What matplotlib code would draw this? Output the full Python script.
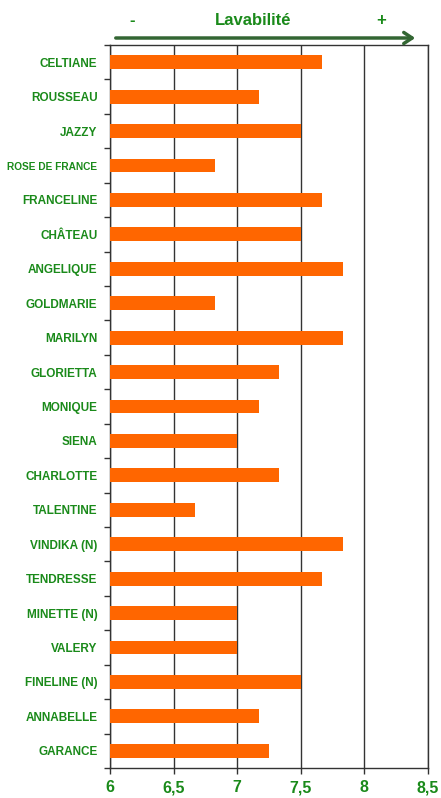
import matplotlib.pyplot as plt
from matplotlib.patches import FancyArrowPatch
from matplotlib.ticker import FixedLocator

varieties = ["CELTIANE", "ROUSSEAU", "JAZZY", "ROSE DE FRANCE", "FRANCELINE",
             "CHÂTEAU", "ANGELIQUE", "GOLDMARIE", "MARILYN", "GLORIETTA",
             "MONIQUE", "SIENA", "CHARLOTTE", "TALENTINE", "VINDIKA (N)",
             "TENDRESSE", "MINETTE (N)", "VALERY", "FINELINE (N)", "ANNABELLE",
             "GARANCE"]
scores = [7.67, 7.17, 7.5, 6.83, 7.67,
          7.5, 7.83, 6.83, 7.83, 7.33,
          7.17, 7.0, 7.33, 6.67, 7.83,
          7.67, 7.0, 7.0, 7.5, 7.17,
          7.25]
x_ticks = [6, 6.5, 7, 7.5, 8, 8.5]
x_tick_labels = ["6", "6,5", "7", "7,5", "8", "8,5"]

green = "#1a8a1a"
arrow_green = "#336633"
plt.rcParams['font.family'] = ["Liberation Sans", "DejaVu Sans"]

fig = plt.figure(figsize=(4.41, 7.98), dpi=100)
ax = fig.add_axes([0.2494, 0.0376, 0.9698 - 0.2494, 0.9436 - 0.0376])

pos = list(range(len(varieties)))
ax.barh(pos, [s - 6 for s in scores], left=6, height=0.4, color="#ff6600", zorder=3)

ax.set_xlim(6, 8.5)
ax.set_ylim(len(varieties) - 0.5, -0.5)

ax.set_xticks(x_ticks)
ax.set_xticklabels(x_tick_labels, fontsize=11.5, fontweight="bold", color=green)
ax.tick_params(axis="x", length=4, width=1, color="#333333", pad=5)
ax.xaxis.grid(True, color="#333333", linewidth=1, zorder=1)

ax.set_yticks(pos)
labels = ax.set_yticklabels(varieties, fontsize=8.5, fontweight="bold", color=green)
for lab in labels:
    if lab.get_text() == "ROSE DE FRANCE":
        lab.set_fontsize(7.3)
ax.tick_params(axis="y", length=0, pad=9)
ax.yaxis.set_minor_locator(FixedLocator([p + 0.5 for p in range(-1, len(varieties))]))
ax.tick_params(axis="y", which="minor", length=4, width=1, color="#333333")

for s in ax.spines.values():
    s.set_color("#333333")
    s.set_linewidth(1)

# header: arrow with Lavabilité
fig.text(0.574, 0.974, "Lavabilité", ha="center", va="center",
         fontsize=12, fontweight="bold", color=green)
fig.text(0.299, 0.974, "-", ha="center", va="center",
         fontsize=12, fontweight="bold", color=green)
fig.text(0.864, 0.974, "+", ha="center", va="center",
         fontsize=12, fontweight="bold", color=green)
fig.add_artist(FancyArrowPatch(
    (113 / 441, 1 - 38 / 798), (418 / 441, 1 - 38 / 798),
    transform=fig.transFigure, arrowstyle="->,head_length=6,head_width=4",
    color=arrow_green, linewidth=2.5))

fig.savefig("out.png", dpi=100)
